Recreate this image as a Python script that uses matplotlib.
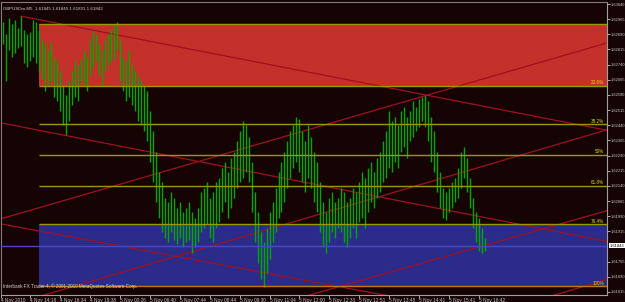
import numpy as np
import matplotlib.pyplot as plt
import matplotlib.transforms as mtransforms
from matplotlib.patches import Rectangle

plt.rcParams['font.family'] = ['Liberation Sans Narrow', 'Liberation Sans', 'DejaVu Sans']

# GBPUSDm M5 bars (high / low), one per bar
highs = [1.6295, 1.6289, 1.6297, 1.6294, 1.6296, 1.6292, 1.6298, 1.6291, 1.6289, 1.6290,
         1.6296, 1.6295, 1.6291, 1.6286, 1.6284, 1.6281, 1.6285, 1.6278, 1.6276, 1.6271,
         1.6264, 1.6259, 1.6266, 1.6271, 1.6276, 1.6274, 1.6277, 1.6281, 1.6278, 1.6286,
         1.6290, 1.6289, 1.6284, 1.6281, 1.6286, 1.6289, 1.6291, 1.6294, 1.6295, 1.6286,
         1.6278, 1.6276, 1.6281, 1.6274, 1.6271, 1.6269, 1.6266, 1.6264, 1.6261, 1.6251,
         1.6241, 1.6231, 1.6221, 1.6216, 1.6208, 1.6206, 1.6211, 1.6208, 1.6203, 1.6206,
         1.6201, 1.6203, 1.6206, 1.6201, 1.6198, 1.6203, 1.6211, 1.6213, 1.6216, 1.6208,
         1.6211, 1.6216, 1.6218, 1.6223, 1.6226, 1.6221, 1.6228, 1.6231, 1.6236, 1.6241,
         1.6246, 1.6244, 1.6238, 1.6226, 1.6211, 1.6201, 1.6191, 1.6186, 1.6193, 1.6201,
         1.6206, 1.6213, 1.6221, 1.6226, 1.6231, 1.6236, 1.6241, 1.6244, 1.6248, 1.6247,
         1.6241, 1.6236, 1.6244, 1.6238, 1.6231, 1.6226, 1.6216, 1.6206, 1.6201, 1.6208,
         1.6211, 1.6206, 1.6208, 1.6213, 1.6211, 1.6206, 1.6208, 1.6213, 1.6211, 1.6216,
         1.6221, 1.6218, 1.6223, 1.6226, 1.6221, 1.6228, 1.6231, 1.6236, 1.6241, 1.6251,
         1.6246, 1.6248, 1.6244, 1.6251, 1.6253, 1.6248, 1.6251, 1.6256, 1.6253, 1.6257,
         1.6258, 1.6259, 1.6256, 1.6248, 1.6241, 1.6231, 1.6221, 1.6213, 1.6211, 1.6213,
         1.6216, 1.6218, 1.6223, 1.6231, 1.6233, 1.6228, 1.6218, 1.6208, 1.6201, 1.6198,
         1.6193, 1.6188]
lows = [1.6284, 1.6266, 1.6281, 1.6278, 1.6280, 1.6282, 1.6283, 1.6275, 1.6273, 1.6276,
        1.6278, 1.6275, 1.6271, 1.6267, 1.6261, 1.6264, 1.6266, 1.6258, 1.6256, 1.6251,
        1.6244, 1.6239, 1.6246, 1.6254, 1.6258, 1.6256, 1.6266, 1.6264, 1.6261, 1.6269,
        1.6273, 1.6276, 1.6269, 1.6264, 1.6271, 1.6274, 1.6276, 1.6277, 1.6281, 1.6266,
        1.6261, 1.6256, 1.6258, 1.6254, 1.6251, 1.6246, 1.6244, 1.6241, 1.6236, 1.6226,
        1.6216, 1.6206, 1.6198, 1.6191, 1.6188, 1.6186, 1.6191, 1.6187, 1.6185, 1.6188,
        1.6184, 1.6186, 1.6187, 1.6181, 1.6184, 1.6186, 1.6191, 1.6193, 1.6195, 1.6188,
        1.6186, 1.6193, 1.6196, 1.6201, 1.6206, 1.6198, 1.6203, 1.6208, 1.6213, 1.6216,
        1.6218, 1.6221, 1.6216, 1.6201, 1.6186, 1.6176, 1.6168, 1.6164, 1.6171, 1.6178,
        1.6186, 1.6191, 1.6198, 1.6201, 1.6206, 1.6213, 1.6218, 1.6223, 1.6226, 1.6221,
        1.6216, 1.6211, 1.6218, 1.6213, 1.6206, 1.6201, 1.6191, 1.6184, 1.6181, 1.6186,
        1.6191, 1.6188, 1.6193, 1.6191, 1.6186, 1.6184, 1.6188, 1.6193, 1.6188, 1.6196,
        1.6198, 1.6193, 1.6201, 1.6206, 1.6203, 1.6208, 1.6211, 1.6216, 1.6218, 1.6223,
        1.6221, 1.6226, 1.6223, 1.6231, 1.6233, 1.6228, 1.6236, 1.6238, 1.6241, 1.6243,
        1.6246, 1.6243, 1.6236, 1.6226, 1.6221, 1.6211, 1.6203, 1.6198, 1.6197, 1.6201,
        1.6203, 1.6206, 1.6208, 1.6213, 1.6218, 1.6211, 1.6203, 1.6193, 1.6186, 1.6182,
        1.6181, 1.6182]

current_price = 1.61843
header = "GBPUSDm,M5  1.61845 1.61845 1.61831 1.61843"
footer = "Interbank FX Trader 4, \u00a9 2001-2010 MetaQuotes Software Corp."

# fibonacci retracement
fib_high = 1.62941
fib_low = 1.61644
fib_start = 12
fib_levels = [0.0, 0.236, 0.382, 0.5, 0.618, 0.764, 1.0]
fib_labels = ["", "23.6%", "38.2%", "50%", "61.8%", "76.4%", "100%"]

# trend lines: (bar, price) -> (bar, price)
trend_a = [(6, 1.6298), (0, 1.6245), (0, 1.6195), (0, 1.6198), (0, 1.6154), (0, 1.6117), (0, 1.6078)]
trend_b = [(200, 1.6242), (200, 1.6187), (200, 1.6140), (200, 1.6284), (200, 1.6241), (200, 1.6201), (200, 1.6167)]

price_ticks = [1.63040, 1.62965, 1.62890, 1.62815, 1.62740, 1.62665, 1.62590, 1.62515,
               1.62440, 1.62365, 1.62290, 1.62215, 1.62140, 1.62065, 1.61990, 1.61915,
               1.61765, 1.61690, 1.61615]
time_ticks = [-0.6, 9, 19, 29, 39, 49, 59, 69, 79, 89, 99, 109, 119, 129, 139, 149, 159]
time_labels = ["4 Nov 2010", "4 Nov 14:18", "4 Nov 16:34", "4 Nov 19:38", "5 Nov 00:26",
               "5 Nov 06:40", "5 Nov 07:44", "5 Nov 08:44", "5 Nov 09:30", "5 Nov 11:04",
               "5 Nov 12:00", "5 Nov 12:33", "5 Nov 12:51", "5 Nov 13:48", "5 Nov 14:41",
               "5 Nov 15:41", "5 Nov 16:42"]

bg = "#160303"
fig = plt.figure(figsize=(6.25, 3.02), dpi=100, facecolor=bg)
ax = fig.add_axes([1 / 625, 7 / 302, 606 / 625, 293 / 302], facecolor=bg)
x_right = 201.7
ax.set_xlim(-0.67, x_right)
ax.set_ylim(1.61600, 1.63050)

# fib zones
p0 = fib_high
p236 = fib_high - 0.236 * (fib_high - fib_low)
p764 = fib_high - 0.764 * (fib_high - fib_low)
ax.add_patch(Rectangle((fib_start, p236), x_right - fib_start, p0 - p236,
                       facecolor="#c4302a", edgecolor="none", zorder=1))
ax.add_patch(Rectangle((fib_start, fib_low), x_right - fib_start, p764 - fib_low,
                       facecolor="#2b2b8a", edgecolor="none", zorder=1))

# trend lines
for (xa, ya), (xb, yb) in zip(trend_a, trend_b):
    slope = (yb - ya) / (xb - xa)
    ax.plot([xa, x_right + 2], [ya, ya + slope * (x_right + 2 - xa)],
            color="#a01020", lw=0.9, zorder=2)

# bars
idx = np.arange(len(highs))
ax.vlines(idx, lows, highs, colors="#00a800", lw=1.0, zorder=3)

# fib levels
for lev, lab in zip(fib_levels, fib_labels):
    p = fib_high - lev * (fib_high - fib_low)
    col = "#c07a10" if lev == 1.0 else "#9a9a00"
    ax.hlines(p, fib_start, x_right, colors=col, lw=1.0, zorder=4)
    if lab:
        ax.text(x_right - 1.0, p + 0.00003, lab, fontsize=3.3, color="#d8d800",
                ha="right", va="bottom", zorder=5)

# current price line
ax.axhline(current_price, color="#4848c8", lw=1.0, zorder=4)

# axes styling
for side in ["top", "left"]:
    ax.spines[side].set_color("#808080")
    ax.spines[side].set_linewidth(0.8)
for side in ["right", "bottom"]:
    ax.spines[side].set_color("#a0a0a0")
    ax.spines[side].set_linewidth(0.8)

ax.yaxis.tick_right()
ax.set_yticks(price_ticks)
ax.set_yticklabels([f"{p:.5f}" for p in price_ticks])
ax.tick_params(axis="y", labelsize=2.9, colors="#c8c8c8", length=2, pad=0.8, width=0.6)
ax.set_xticks(time_ticks)
ax.set_xticklabels(time_labels, ha="left")
ax.tick_params(axis="x", labelsize=3.4, colors="#c8c8c8", length=2, pad=0.5, width=0.6)

trans = mtransforms.blended_transform_factory(ax.transAxes, ax.transData)
ax.text(1.004, current_price, f"{current_price:.5f}", transform=trans, fontsize=2.9,
        color="black", ha="left", va="center",
        bbox=dict(facecolor="white", edgecolor="none", pad=0.4))

ax.text(0.004, 0.985, header, transform=ax.transAxes, fontsize=3.2, color="#d0d0d0",
        ha="left", va="top", zorder=6)
ax.text(0.004, 0.02, footer, transform=ax.transAxes, fontsize=3.3, color="#d0d0d0",
        ha="left", va="bottom", zorder=6)

plt.savefig("out.png", dpi=100, facecolor=bg)
